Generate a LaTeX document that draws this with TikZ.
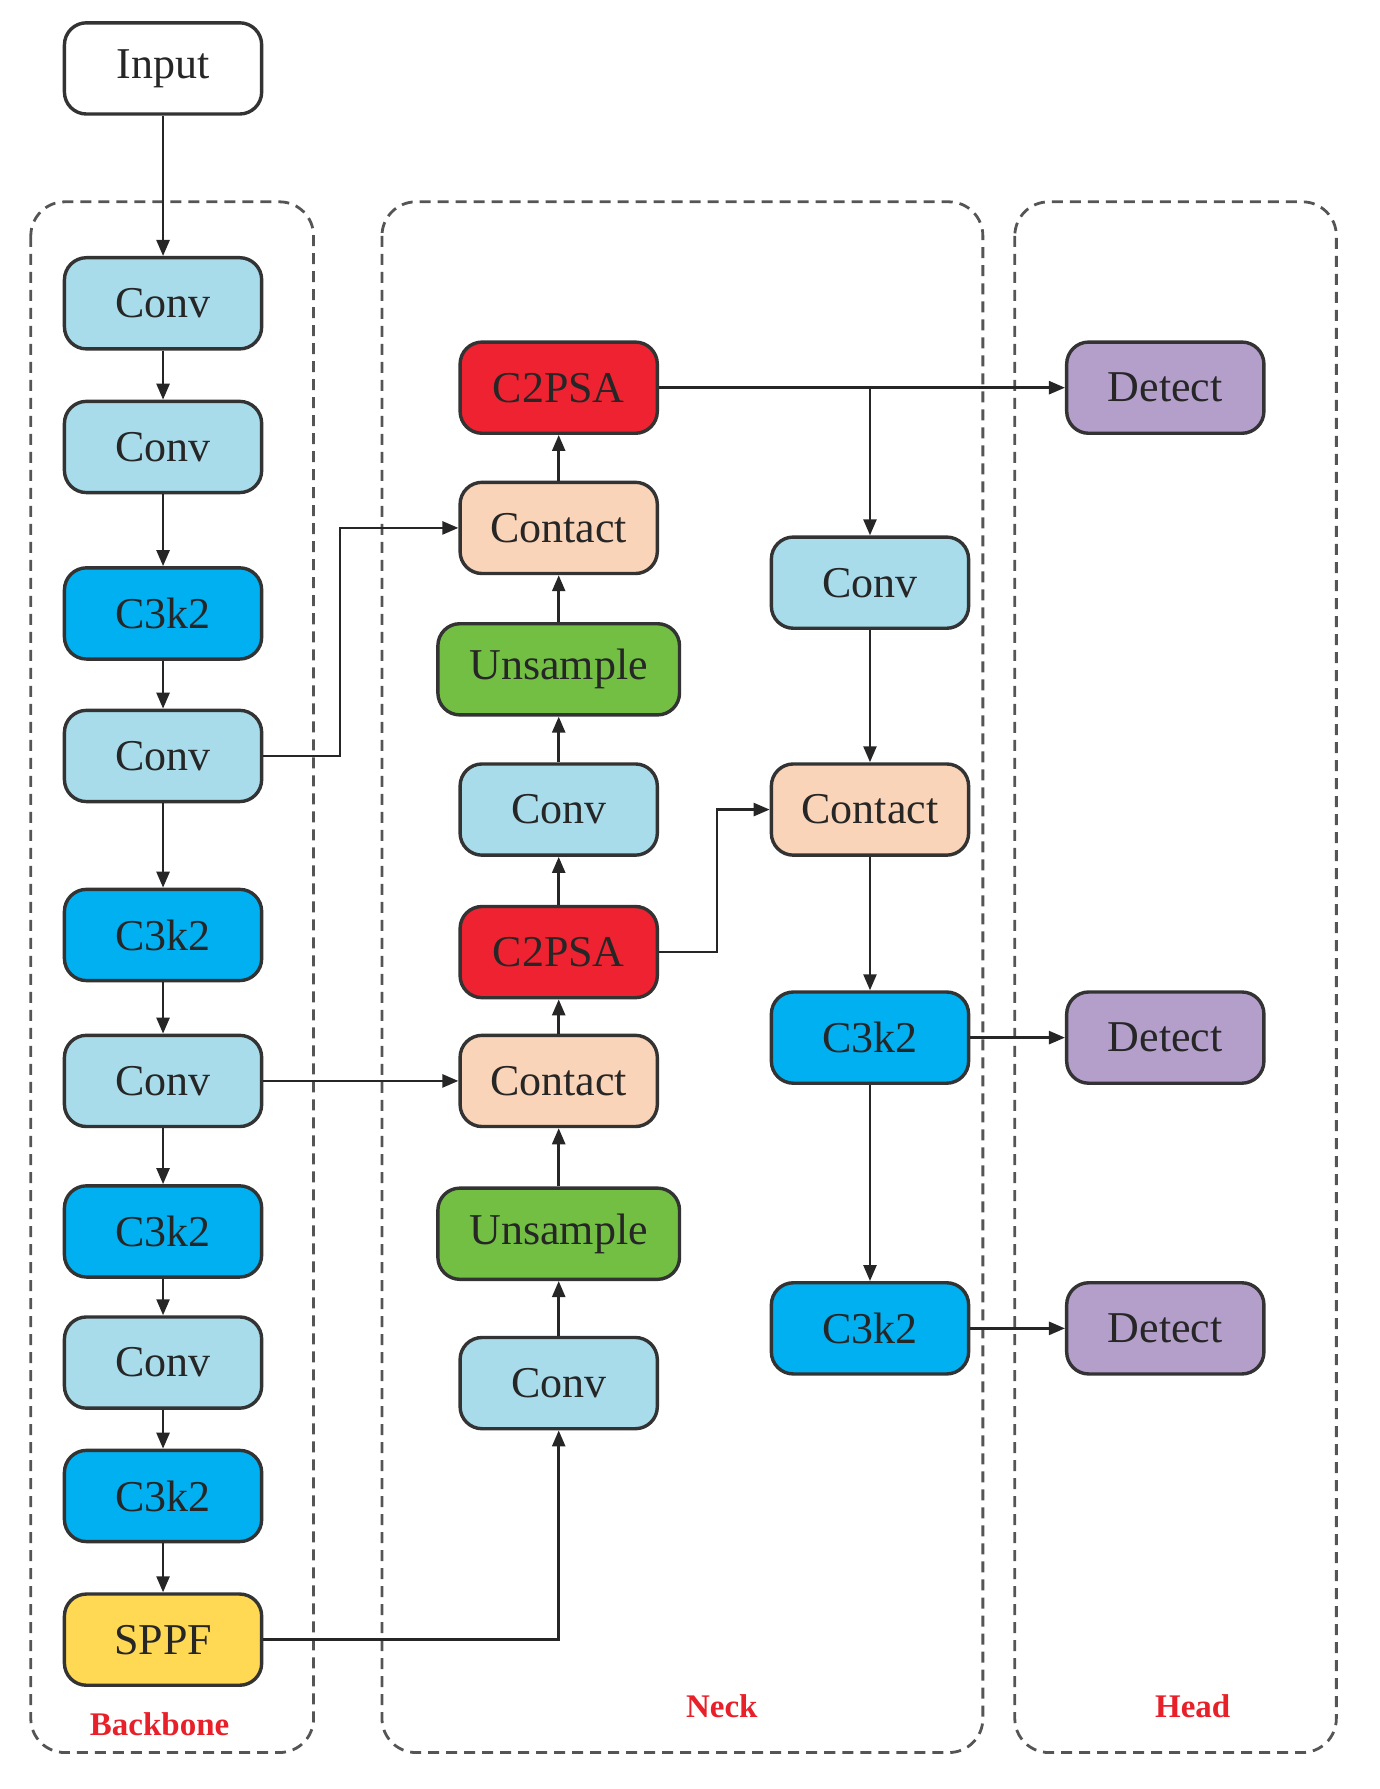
\documentclass[tikz,border=0pt]{standalone}
\usepackage{fontspec}
\setmainfont{Liberation Serif}
\usetikzlibrary{arrows.meta}
\definecolor{convc}{HTML}{A8DCEA}
\definecolor{c3c}{HTML}{00B0F0}
\definecolor{psac}{HTML}{EE2230}
\definecolor{conc}{HTML}{FAD4B8}
\definecolor{unsc}{HTML}{72BF44}
\definecolor{sppfc}{HTML}{FFD954}
\definecolor{detc}{HTML}{B49FCB}
\definecolor{bordc}{HTML}{333333}
\definecolor{dashc}{HTML}{555555}
\definecolor{labc}{HTML}{E8202A}
\tikzset{
  blk/.style={draw=bordc, line width=1.7pt, rounded corners=11pt, minimum width=98.6pt, minimum height=45.6pt, inner sep=0pt, font=\fontsize{22}{24}\selectfont, text=black!85},
  wideblk/.style={blk, minimum width=120.8pt},
  conv/.style={blk, fill=convc},
  c3/.style={blk, fill=c3c},
  psa/.style={blk, fill=psac},
  con/.style={blk, fill=conc},
  uns/.style={wideblk, fill=unsc},
  sppf/.style={blk, fill=sppfc},
  det/.style={blk, fill=detc},
  inp/.style={blk, fill=white},
  arr/.style={draw=black!85, line width=1.25pt, -{Triangle[length=8pt,width=6.5pt]}},
  grp/.style={draw=dashc, line width=1.4pt, dash pattern=on 5.5pt off 3.5pt, rounded corners=17pt},
  lab/.style={text=labc, font=\bfseries\fontsize{16.5}{18}\selectfont}
}
\begin{document}
\begin{tikzpicture}[x=0.57pt,y=-0.57pt]
\useasboundingbox (0,0) rectangle (1210,1569);
% groups
\draw[grp] (27,177) rectangle (275,1537);
\draw[grp] (335,177) rectangle (862,1537);
\draw[grp] (890,177) rectangle (1172,1537);
\node[lab] (lb) at (140,1512) {Backbone};
\node[lab] (ln) at (633,1496) {Neck};
\node[lab] (lh) at (1046,1496) {Head};
% backbone
\node[inp] (in) at (143,60) {Input};
\node[conv] (b1) at (143,266) {Conv};
\node[conv] (b2) at (143,392) {Conv};
\node[c3] (b3) at (143,538) {C3k2};
\node[conv] (b4) at (143,663) {Conv};
\node[c3] (b5) at (143,820) {C3k2};
\node[conv] (b6) at (143,948) {Conv};
\node[c3] (b7) at (143,1080) {C3k2};
\node[conv] (b8) at (143,1195) {Conv};
\node[c3] (b9) at (143,1312) {C3k2};
\node[sppf] (b10) at (143,1438) {SPPF};
% neck col 1
\node[psa] (n1) at (490,340) {C2PSA};
\node[con] (n2) at (490,463) {Contact};
\node[uns] (n3) at (490,587) {Unsample};
\node[conv] (n4) at (490,710) {Conv};
\node[psa] (n5) at (490,835) {C2PSA};
\node[con] (n6) at (490,948) {Contact};
\node[uns] (n7) at (490,1082) {Unsample};
\node[conv] (n8) at (490,1213) {Conv};
% neck col 2
\node[conv] (m1) at (763,511) {Conv};
\node[con] (m2) at (763,710) {Contact};
\node[c3] (m3) at (763,910) {C3k2};
\node[c3] (m4) at (763,1165) {C3k2};
% head
\node[det] (d1) at (1022,340) {Detect};
\node[det] (d2) at (1022,910) {Detect};
\node[det] (d3) at (1022,1165) {Detect};
% backbone arrows
\draw[arr] (in) -- (b1);
\draw[arr] (b1) -- (b2);
\draw[arr] (b2) -- (b3);
\draw[arr] (b3) -- (b4);
\draw[arr] (b4) -- (b5);
\draw[arr] (b5) -- (b6);
\draw[arr] (b6) -- (b7);
\draw[arr] (b7) -- (b8);
\draw[arr] (b8) -- (b9);
\draw[arr] (b9) -- (b10);
% cross links
\draw[arr] (b4.east) -- ++(67,0) |- (n2.west);
\draw[arr] (b6.east) -- (n6.west);
\draw[arr] (b10.east) -| (n8.south);
% neck col1 upward
\draw[arr] (n8) -- (n7);
\draw[arr] (n7) -- (n6);
\draw[arr] (n6) -- (n5);
\draw[arr] (n5) -- (n4);
\draw[arr] (n4) -- (n3);
\draw[arr] (n3) -- (n2);
\draw[arr] (n2) -- (n1);
\draw[arr] (n5.east) -- ++(51,0) |- (m2.west);
\draw[arr] (n1.east) -- (d1.west);
\coordinate (br) at (m1.north |- n1.east);
\draw[arr] (br) -- (m1.north);
% neck col2 downward
\draw[arr] (m1) -- (m2);
\draw[arr] (m2) -- (m3);
\draw[arr] (m3) -- (m4);
\draw[arr] (m3.east) -- (d2.west);
\draw[arr] (m4.east) -- (d3.west);
\end{tikzpicture}
\end{document}
